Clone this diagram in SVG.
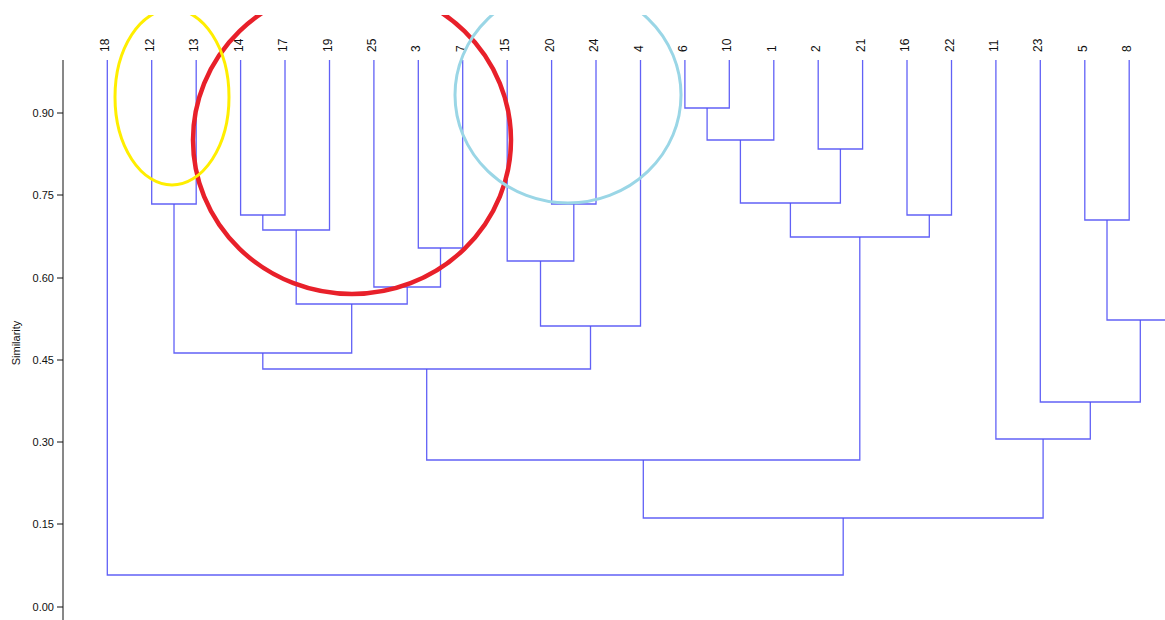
<svg xmlns="http://www.w3.org/2000/svg" width="1165" height="620" viewBox="0 0 1165 620">
<style>
.lbl{font-family:"Liberation Sans",Arial,sans-serif;font-size:12px;fill:#111}
.tick{font-family:"Liberation Sans",Arial,sans-serif;font-size:11px;fill:#111;text-anchor:end}
.axis{stroke:#111;stroke-width:1;fill:none}
.den{stroke:#5050f5;stroke-width:1.3;fill:none;stroke-opacity:0.9}
.ring{fill:none}
</style>
<defs>
<clipPath id="clipTop"><rect x="0" y="15" width="1165" height="605"/></clipPath>
</defs>
<rect width="1165" height="620" fill="#fff"/>
<g id="axis">
<path class="axis" d="M63,60V620M57,113H63M57,195H63M57,278H63M57,360H63M57,442H63M57,524H63M57,607H63"/>
<text class="tick" x="54" y="117">0.90</text>
<text class="tick" x="54" y="199">0.75</text>
<text class="tick" x="54" y="282">0.60</text>
<text class="tick" x="54" y="364">0.45</text>
<text class="tick" x="54" y="446">0.30</text>
<text class="tick" x="54" y="528">0.15</text>
<text class="tick" x="54" y="611">0.00</text>
<text class="tick" transform="translate(20,343) rotate(-90)" style="text-anchor:middle">Similarity</text>
</g>
<g id="leaves">
<g id="leaf-18"><text class="lbl" transform="translate(109,52) rotate(-90)">18</text></g>
<g id="leaf-12"><text class="lbl" transform="translate(153.5,52) rotate(-90)">12</text></g>
<g id="leaf-13"><text class="lbl" transform="translate(198,52) rotate(-90)">13</text></g>
<g id="leaf-14"><text class="lbl" transform="translate(242.5,52) rotate(-90)">14</text></g>
<g id="leaf-17"><text class="lbl" transform="translate(287,52) rotate(-90)">17</text></g>
<g id="leaf-19"><text class="lbl" transform="translate(331.5,52) rotate(-90)">19</text></g>
<g id="leaf-25"><text class="lbl" transform="translate(375.5,52) rotate(-90)">25</text></g>
<g id="leaf-3"><text class="lbl" transform="translate(420,52) rotate(-90)">3</text></g>
<g id="leaf-7"><text class="lbl" transform="translate(464.5,52) rotate(-90)">7</text></g>
<g id="leaf-15"><text class="lbl" transform="translate(509,52) rotate(-90)">15</text></g>
<g id="leaf-20"><text class="lbl" transform="translate(553.5,52) rotate(-90)">20</text></g>
<g id="leaf-24"><text class="lbl" transform="translate(598,52) rotate(-90)">24</text></g>
<g id="leaf-4"><text class="lbl" transform="translate(642.5,52) rotate(-90)">4</text></g>
<g id="leaf-6"><text class="lbl" transform="translate(687,52) rotate(-90)">6</text></g>
<g id="leaf-10"><text class="lbl" transform="translate(731,52) rotate(-90)">10</text></g>
<g id="leaf-1"><text class="lbl" transform="translate(775.5,52) rotate(-90)">1</text></g>
<g id="leaf-2"><text class="lbl" transform="translate(820,52) rotate(-90)">2</text></g>
<g id="leaf-21"><text class="lbl" transform="translate(864.5,52) rotate(-90)">21</text></g>
<g id="leaf-16"><text class="lbl" transform="translate(909,52) rotate(-90)">16</text></g>
<g id="leaf-22"><text class="lbl" transform="translate(953.5,52) rotate(-90)">22</text></g>
<g id="leaf-11"><text class="lbl" transform="translate(998,52) rotate(-90)">11</text></g>
<g id="leaf-23"><text class="lbl" transform="translate(1042,52) rotate(-90)">23</text></g>
<g id="leaf-5"><text class="lbl" transform="translate(1086.5,52) rotate(-90)">5</text></g>
<g id="leaf-8"><text class="lbl" transform="translate(1131,52) rotate(-90)">8</text></g>
</g>
<g id="connectors">
<path class="den" d="M151.7,60V204H196.2V60"/>
<path class="den" d="M240.6,60V215H285V60"/>
<path class="den" d="M262.8,215V230H329.5V60"/>
<path class="den" d="M418.3,60V248H462.7V60"/>
<path class="den" d="M373.9,60V287H440.5V248"/>
<path class="den" d="M296.2,230V304H407.2V287"/>
<path class="den" d="M174,204V353H351.7V304"/>
<path class="den" d="M551.6,60V204H596V60"/>
<path class="den" d="M507.2,60V261H573.8V204"/>
<path class="den" d="M540.5,261V326H640.5V60"/>
<path class="den" d="M262.8,353V369H590.5V326"/>
<path class="den" d="M684.9,60V108H729.3V60"/>
<path class="den" d="M707.1,108V140H773.8V60"/>
<path class="den" d="M818.2,60V149H862.6V60"/>
<path class="den" d="M740.4,140V203H840.4V149"/>
<path class="den" d="M907,60V215H951.5V60"/>
<path class="den" d="M790.4,203V237H929.3V215"/>
<path class="den" d="M426.7,369V460H859.8V237"/>
<path class="den" d="M1084.8,60V220H1129.2V60"/>
<path class="den" d="M1107,220V320H1173.6V60"/>
<path class="den" d="M1040.3,60V402H1140.3V320"/>
<path class="den" d="M995.9,60V439H1090.3V402"/>
<path class="den" d="M643.3,460V518H1043.1V439"/>
<path class="den" d="M107.3,60V575H843.2V518"/>
</g>
<g id="highlights" clip-path="url(#clipTop)">
<ellipse id="red-ring" class="ring" cx="352" cy="140" rx="159" ry="154" stroke="#e8202a" stroke-width="4.5"/>
<ellipse id="yellow-ring" class="ring" cx="172" cy="97" rx="57" ry="88" stroke="#ffee00" stroke-width="3"/>
<ellipse id="blue-ring" class="ring" cx="568" cy="95" rx="113" ry="108" stroke="#9ad6e6" stroke-width="3"/>
</g>
</svg>
